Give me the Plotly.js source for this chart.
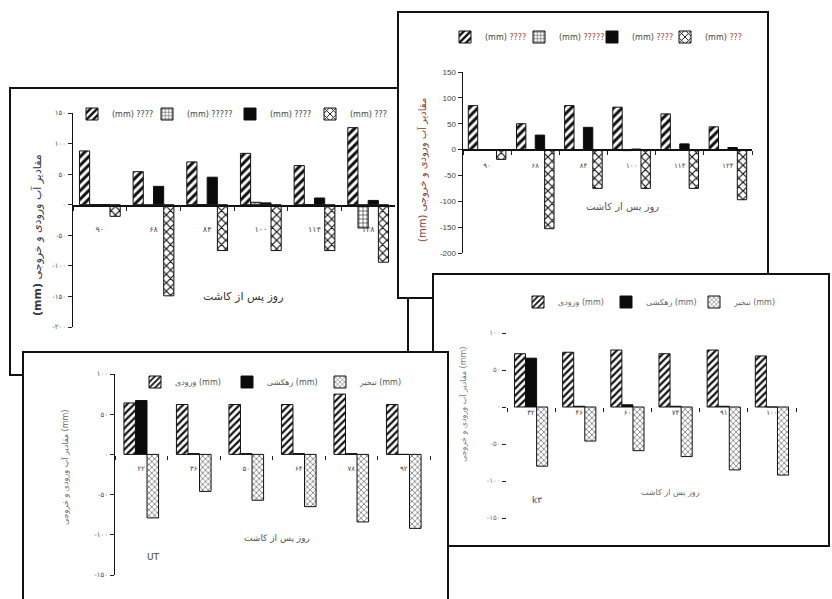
<!DOCTYPE html>
<html><head><meta charset="utf-8">
<script src="https://cdn.plot.ly/plotly-3.0.1.min.js"></script>
<style>html,body{margin:0;padding:0;background:#fff}</style>
</head><body><div id="chart" style="width:832px;height:599px"></div>
<script>
// ---------- DATA ----------
const catsA = ['۹۰','۶۸','۸۴','۱۰۰','۱۱۴','۱۲۸'];
const aIn    = [88, 54, 70, 84, 64, 126];
const aS2    = [0, -3, 0, 4, 0, -38];
const aDrain = [0, 30, 45, 3, 11, 7];
const aOut   = [-19, -149, -75, -75, -75, -94];

const catsB = ['۹۰','۶۸','۸۴','۱۰۰','۱۱۴','۱۲۴'];
const bIn    = [85, 50, 85, 82, 69, 44];
const bS2    = [0, 0, 0, -2, 0, 0];
const bDrain = [0, 28, 43, 1, 11, 4];
const bOut   = [-19, -153, -75, -75, -75, -97];

const catsC = ['۳۲','۴۶','۶۰','۷۴','۹۱','۱۰۰'];
const cIn    = [72, 74, 77, 72, 77, 69];
const cDrain = [66, 1, 3, 1, 1, 0];
const cEvap  = [-80, -46, -59, -67, -85, -92];

const catsD = ['۲۲','۳۶','۵۰','۶۴','۷۸','۹۲'];
const dIn    = [64, 62, 62, 62, 75, 62];
const dDrain = [67, 1, 1, 1, 1, 0];
const dEvap  = [-79, -46, -57, -65, -84, -92];

const tickValsAB = [-200,-150,-100,-50,0,50,100,150];
const tickTextA  = ['-۲۰۰','-۱۵۰','-۱۰۰','-۵۰','۰','۵۰','۱۰۰','۱۵۰'];
const tickTextB  = ['-200','-150','-100','-50','0','50','100','150'];
const tickValsCD = [-150,-100,-50,0,50,100];
const tickTextCD = ['-۱۵۰','-۱۰۰','-۵۰','۰','۵۰','۱۰۰'];

const namesAB = ['(mm) ????','(mm) ?????','(mm) ????','(mm) ???'];
const namesCD = ['ورودی (mm)','زهکشی (mm)','تبخیر (mm)'];
const xTitle = 'روز پس از کاشت';
const yTitle = 'مقادیر آب ورودی و خروجی';

// ---------- HELPERS ----------
const W = 832, H = 599;
const px = x => x / W, py = y => 1 - y / H;
const FONT = 'DejaVu Sans, Noto Sans, sans-serif';
const ln = {color:'#111', width:1};
const mStripe = {color:'#fff', pattern:{shape:'/', fgcolor:'#111', bgcolor:'#fff', size:6, solidity:0.5}, line:ln};
const mGrid   = {color:'#fff', pattern:{shape:'+', fgcolor:'#333', bgcolor:'#fff', size:4, solidity:0.3}, line:ln};
const mBlack  = {color:'#0a0a0a', line:ln};
const mCross  = {color:'#fff', pattern:{shape:'x', fgcolor:'#111', bgcolor:'#fff', size:6, solidity:0.35}, line:ln};
const mDotX   = {color:'#fff', pattern:{shape:'x', fgcolor:'#333', bgcolor:'#fff', size:4, solidity:0.25}, line:ln};
const mStripe2 = {color:'#fff', pattern:{shape:'/', fgcolor:'#111', bgcolor:'#fff', size:5, solidity:0.45}, line:ln};

function bar(x, y, xa, ya, off, w, marker, name, legend) {
  return {type:'bar', x:x, y:y, xaxis:xa, yaxis:ya, offset:off, width:w, marker:marker,
          name:name, legend:legend, showlegend:true, hoverinfo:'skip'};
}
const red = s => s.replace(/\?+/, m => '<span style="color:#a8453a">' + m + '</span>');

const traces = [
  bar(catsA, aIn,    'x','y', -0.38, 0.19, mStripe, namesAB[0], 'legend'),
  bar(catsA, aS2,    'x','y', -0.19, 0.19, mGrid,   namesAB[1], 'legend2'),
  bar(catsA, aDrain, 'x','y',  0.00, 0.19, mBlack,  namesAB[2], 'legend3'),
  bar(catsA, aOut,   'x','y',  0.19, 0.19, mCross,  namesAB[3], 'legend4'),

  bar(catsB, bIn,    'x2','y2', -0.39, 0.195, mStripe, red(namesAB[0]), 'legend5'),
  bar(catsB, bS2,    'x2','y2', -0.195,0.195, mGrid,   red(namesAB[1]), 'legend6'),
  bar(catsB, bDrain, 'x2','y2',  0.00, 0.195, mBlack,  red(namesAB[2]), 'legend7'),
  bar(catsB, bOut,   'x2','y2',  0.195,0.195, mCross,  red(namesAB[3]), 'legend8'),

  bar(catsC, cIn,    'x3','y3', -0.345, 0.23, mStripe2, namesCD[0], 'legend9'),
  bar(catsC, cDrain, 'x3','y3', -0.115, 0.23, mBlack,   namesCD[1], 'legend10'),
  bar(catsC, cEvap,  'x3','y3',  0.115, 0.23, mDotX,    namesCD[2], 'legend11'),

  bar(catsD, dIn,    'x4','y4', -0.33, 0.22, mStripe2, namesCD[0], 'legend12'),
  bar(catsD, dDrain, 'x4','y4', -0.11, 0.22, mBlack,   namesCD[1], 'legend13'),
  bar(catsD, dEvap,  'x4','y4',  0.11, 0.22, mDotX,    namesCD[2], 'legend14')
];

function xAx(l, r, zeroY, standoff, showline, fs) {
  return {domain:[px(l), px(r)], anchor:'free', position:py(zeroY), type:'category', range:[-0.5,5.5],
    showline:showline, linecolor:'#111', linewidth:1.5, ticks:'outside', tickson:'boundaries',
    ticklen:4, tickcolor:'#222', tickwidth:1, showgrid:false, zeroline:false,
    tickfont:{size:fs, color:'#444', family:FONT}, ticklabelstandoff:standoff, fixedrange:true, automargin:false};
}
function yAx(top, bot, range, vals, text, anchor, showline, fs, col, fam) {
  return {domain:[py(bot), py(top)], anchor:anchor, range:range, tickmode:'array', tickvals:vals, ticktext:text,
    showline:showline, linecolor:'#111', linewidth:1.5, ticks:'outside', ticklen:4, tickcolor:'#222',
    showgrid:false, zeroline:false, tickfont:{size:fs, color:col, family:fam||FONT}, fixedrange:true, automargin:false};
}

function leg(sx, sy, col) {
  return {x:px(sx - 25), y:py(sy), xanchor:'left', yanchor:'middle', orientation:'h',
          bgcolor:'rgba(0,0,0,0)', borderwidth:0, font:{size:8, color:col||'#444', family:FONT}};
}

function ann(text, x, y, size, color, angle) {
  return {text:text, x:px(x), y:py(y), xref:'paper', yref:'paper', showarrow:false,
          xanchor:'center', yanchor:'middle', textangle:angle||0,
          font:{size:size, color:color||'#333', family:FONT}};
}
function box(x0, y0, x1, y1) {
  return {type:'rect', xref:'paper', yref:'paper', x0:px(x0), x1:px(x1), y0:py(y1), y1:py(y0),
          fillcolor:'#fff', line:{color:'#111', width:2}, layer:'below'};
}

const layout = {
  width:W, height:H, margin:{l:0, r:0, t:0, b:0},
  paper_bgcolor:'#fff', plot_bgcolor:'rgba(0,0,0,0)',
  font:{family:FONT, size:8, color:'#333'},
  barmode:'overlay', hovermode:false,
  xaxis:  xAx(73, 395, 205, 16, true, 8),
  yaxis:  yAx(113, 327, [-200,150], tickValsAB, tickTextA, 'x', true, 7, '#555'),
  xaxis2: xAx(463, 752, 149, 9, true, 7),
  yaxis2: yAx(72, 253, [-200,150], tickValsAB, tickTextB, 'x2', true, 8, '#444', 'Liberation Sans, sans-serif'),
  xaxis3: xAx(507, 796, 407, 0, false, 7),
  yaxis3: yAx(333, 518, [-150,100], tickValsCD, tickTextCD, 'x3', false, 7, '#777'),
  xaxis4: xAx(115, 430, 455, 8, false, 7),
  yaxis4: yAx(374, 575, [-150,100], tickValsCD, tickTextCD, 'x4', true, 7, '#555'),
  legend:  leg(97, 114), legend2: leg(172, 114), legend3: leg(255, 114), legend4: leg(335, 114),
  legend5: leg(470, 37), legend6: leg(544, 37), legend7: leg(617, 37), legend8: leg(690, 37),
  legend9: leg(543, 302, '#666'), legend10: leg(631, 302, '#666'), legend11: leg(719, 302, '#666'),
  legend12: leg(160, 382, '#555'), legend13: leg(252, 382, '#555'), legend14: leg(345, 382, '#555'),
  shapes: [box(10, 88, 408, 375), box(398, 12, 768, 298), box(433, 274, 829, 546), box(23, 352, 448, 610)],
  annotations: [
    ann(xTitle, 243, 296, 11, '#333'),
    ann('<b>(mm)</b> ' + yTitle, 37, 235, 11, '#333', -90),
    ann(xTitle, 622, 207, 10, '#555'),
    ann('(mm) ' + yTitle, 423, 170, 10, '#8a3b30', -90),
    ann(xTitle, 670, 492, 8, '#666'),
    ann(yTitle + ' (mm)', 463, 405, 8, '#777', -90),
    ann('k۳', 537, 500, 9, '#444'),
    ann(xTitle, 277, 538, 9, '#555'),
    ann(yTitle + ' (mm)', 65, 468, 8, '#666', -90),
    ann('UT', 153, 557, 9, '#444')
  ]
};

Plotly.newPlot('chart', traces, layout, {staticPlot:true, displayModeBar:false});
</script></body></html>
